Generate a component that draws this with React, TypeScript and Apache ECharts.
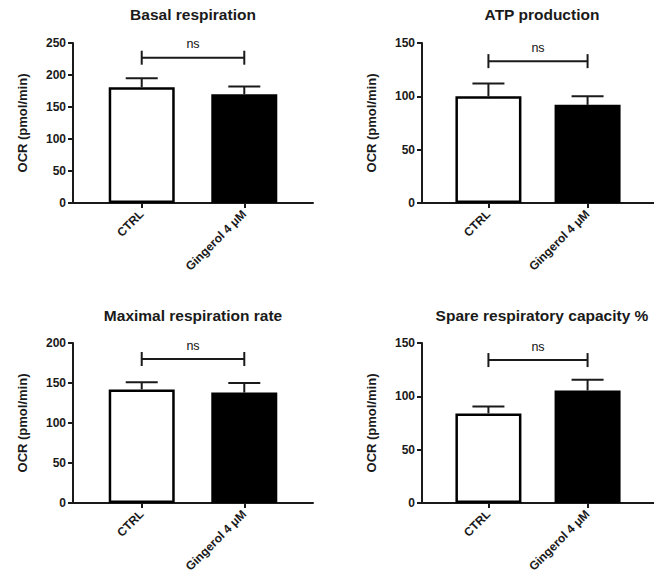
import React, { useEffect, useRef } from "react";
import * as echarts from "echarts";

// ---- data ----
const categories = ["CTRL", "Gingerol 4 μM"];
const panelTitles = [
  "Basal respiration",
  "ATP production",
  "Maximal respiration rate",
  "Spare respiratory capacity %",
];
const yAxisName = "OCR (pmol/min)";

const basalMean = [181, 170];
const basalUpper = [195, 182];
const atpMean = [100, 92];
const atpUpper = [112, 100];
const maximalMean = [142, 138];
const maximalUpper = [151, 150];
const spareMean = [84, 105.5];
const spareUpper = [90.5, 115.5];

const yMaxes = [250, 150, 200, 150];
const yIntervals = [50, 50, 50, 50];
const bracketValues = [227, 133, 180, 134];
const sigLabels = ["ns", "ns", "ns", "ns"];

const means = [basalMean, atpMean, maximalMean, spareMean];
const uppers = [basalUpper, atpUpper, maximalUpper, spareUpper];
const barFills = ["#ffffff", "#000000"];

// ---- layout ----
const FONT = "'Liberation Sans', Arial, Helvetica, sans-serif";
const INK = "#1a1a1a";
const gridLeft = [73, 422, 73, 422];
const gridTop = [43, 43, 343, 343];
const titleTop = [6, 6, 307, 307];
const gridW = 240;
const gridH = 160;
const xMin = -0.67;
const xMax = 1.67;

export default function App() {
  const ref = useRef<HTMLDivElement>(null);

  useEffect(() => {
    if (!ref.current) return;
    const chart = echarts.init(ref.current, null, { renderer: "svg" });

    const grids: any[] = [];
    const xAxes: any[] = [];
    const yAxes: any[] = [];
    const series: any[] = [];
    const titles: any[] = [];

    for (let i = 0; i < 4; i++) {
      grids.push({
        left: gridLeft[i],
        top: gridTop[i],
        width: gridW,
        height: gridH,
        containLabel: false,
      });
      titles.push({
        text: panelTitles[i],
        left: gridLeft[i] + gridW / 2,
        top: titleTop[i],
        textAlign: "center",
        padding: 0,
        textStyle: {
          fontFamily: FONT,
          fontSize: 15.5,
          fontWeight: "bold",
          color: INK,
        },
      });
      xAxes.push({
        gridIndex: i,
        type: "value",
        min: xMin,
        max: xMax,
        splitLine: { show: false },
        axisLine: { show: true, onZero: false, lineStyle: { color: INK, width: 2 } },
        axisTick: {
          show: true,
          customValues: [0, 1],
          length: 5,
          lineStyle: { color: INK, width: 2 },
        },
        axisLabel: {
          show: true,
          customValues: [0, 1],
          rotate: 45,
          margin: 9,
          formatter: (v: number) => categories[Math.round(v)] ?? "",
          fontFamily: FONT,
          fontSize: 12,
          fontWeight: "bold",
          color: INK,
        },
      });
      yAxes.push({
        gridIndex: i,
        type: "value",
        min: 0,
        max: yMaxes[i],
        interval: yIntervals[i],
        name: yAxisName,
        nameLocation: "middle",
        nameGap: 44,
        nameTextStyle: {
          fontFamily: FONT,
          fontSize: 13,
          fontWeight: "bold",
          color: INK,
        },
        splitLine: { show: false },
        axisLine: { show: true, onZero: false, lineStyle: { color: INK, width: 2 } },
        axisTick: { show: true, length: 5, lineStyle: { color: INK, width: 2 } },
        axisLabel: {
          margin: 7,
          fontFamily: FONT,
          fontSize: 12,
          fontWeight: "bold",
          color: INK,
        },
      });

      series.push({
        type: "bar",
        xAxisIndex: i,
        yAxisIndex: i,
        barWidth: 66,
        data: means[i].map((m, k) => ({
          value: [k, m],
          itemStyle: { color: barFills[k], borderColor: "#000", borderWidth: 2.5 },
        })),
        z: 2,
      });

      series.push({
        type: "custom",
        xAxisIndex: i,
        yAxisIndex: i,
        encode: { x: 0, y: [1, 2] },
        itemStyle: { color: INK },
        data: means[i].map((m, k) => [k, m, uppers[i][k]]),
        z: 3,
        renderItem: (_p: any, api: any) => {
          const x = api.value(0);
          const b = api.coord([x, api.value(1)]);
          const t = api.coord([x, api.value(2)]);
          const st = { stroke: INK, lineWidth: 2, fill: "none" };
          return {
            type: "group",
            children: [
              { type: "line", shape: { x1: b[0], y1: b[1], x2: t[0], y2: t[1] }, style: st },
              { type: "line", shape: { x1: t[0] - 16, y1: t[1], x2: t[0] + 16, y2: t[1] }, style: st },
            ],
          };
        },
      });

      const label = sigLabels[i];
      series.push({
        type: "custom",
        xAxisIndex: i,
        yAxisIndex: i,
        encode: { x: [0, 1], y: 2 },
        itemStyle: { color: INK },
        data: [[0, 1, bracketValues[i]]],
        z: 3,
        renderItem: (_p: any, api: any) => {
          const a = api.coord([api.value(0), api.value(2)]);
          const c = api.coord([api.value(1), api.value(2)]);
          const st = { stroke: INK, lineWidth: 2, fill: "none" };
          return {
            type: "group",
            children: [
              { type: "line", shape: { x1: a[0], y1: a[1], x2: c[0], y2: c[1] }, style: st },
              { type: "line", shape: { x1: a[0], y1: a[1] - 7, x2: a[0], y2: a[1] + 7 }, style: st },
              { type: "line", shape: { x1: c[0], y1: c[1] - 7, x2: c[0], y2: c[1] + 7 }, style: st },
              {
                type: "text",
                x: (a[0] + c[0]) / 2,
                y: a[1] - 13.5,
                silent: true,
                style: {
                  text: label,
                  fill: "#111111",
                  stroke: "none",
                  fontFamily: FONT,
                  fontSize: 12.5,
                  align: "center",
                  verticalAlign: "middle",
                },
              },
            ],
          };
        },
      });
    }

    chart.setOption({
      animation: false,
      backgroundColor: "#ffffff",
      color: [INK],
      title: titles,
      grid: grids,
      xAxis: xAxes,
      yAxis: yAxes,
      series,
    });

    return () => chart.dispose();
  }, []);

  return (
    <div
      ref={ref}
      style={{ position: "absolute", left: 0, top: 0, width: 654, height: 582 }}
    />
  );
}
